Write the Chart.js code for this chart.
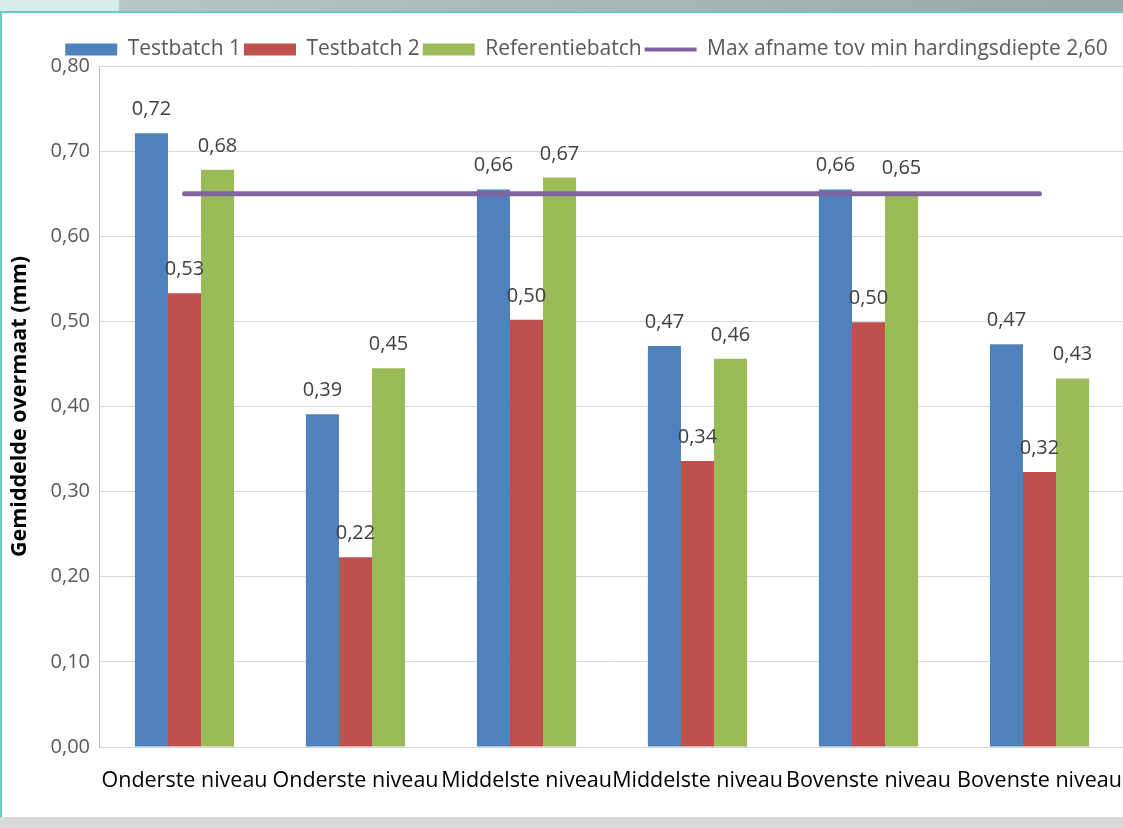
<!DOCTYPE html>
<html>
<head>
<meta charset="utf-8">
<script src="https://cdn.jsdelivr.net/npm/chart.js@4.4.1/dist/chart.umd.min.js"></script>
<style>
  html, body { margin: 0; padding: 0; background: #fff; overflow: hidden; }
  #page { position: relative; width: 1123px; height: 828px; overflow: hidden; background: #fff; }
  #topbar { position: absolute; left: 0; top: 0; width: 1123px; height: 11px;
    background: linear-gradient(to right, #d9ecec 0, #d9ecec 118px, #b9c5c5 120px, #9aa7a7 100%); }
  #topline { position: absolute; left: 0; top: 11px; width: 1123px; height: 2px; background: #6cc7bf; }
  #leftline { position: absolute; left: 0; top: 11px; width: 2px; height: 806px; background: #6cc7bf; z-index: 2; }
  #bottomband { position: absolute; left: 0; top: 817px; width: 1123px; height: 11px; background: #d9d9d9; }
  #wrap { position: absolute; left: 0; top: 13px; width: 1123px; height: 802px; overflow: hidden; }
</style>
</head>
<body>
<div id="page">
  <div id="topbar"></div>
  <div id="topline"></div>
  <div id="leftline"></div>
  <div id="wrap"><canvas id="chart" width="1130" height="802"></canvas></div>
  <div id="bottomband"></div>
</div>
<script>
// gegevens uit de grafiek
const categories = ['Onderste niveau', 'Onderste niveau', 'Middelste niveau', 'Middelste niveau', 'Bovenste niveau', 'Bovenste niveau'];
const testbatch1 = [0.721, 0.391, 0.655, 0.471, 0.655, 0.473];
const testbatch2 = [0.533, 0.223, 0.502, 0.336, 0.499, 0.323];
const referentiebatch = [0.678, 0.445, 0.669, 0.456, 0.652, 0.433];
const maxAfname = [0.65, 0.65, 0.65, 0.65, 0.65, 0.65];
const yTicks = [0, 0.1, 0.2, 0.3, 0.4, 0.5, 0.6, 0.7, 0.8];

const FONT = '"Open Sans", "Noto Sans", sans-serif';
const fmt = (v) => v.toFixed(2).replace('.', ',');

// waarden boven de staven
const barLabels = {
  id: 'barLabels',
  afterDatasetsDraw(chart) {
    const ctx = chart.ctx;
    ctx.save();
    ctx.font = '20px ' + FONT;
    ctx.fillStyle = '#404040';
    ctx.textAlign = 'center';
    ctx.textBaseline = 'alphabetic';
    chart.data.datasets.forEach((ds, i) => {
      if (ds.type === 'line') return;
      chart.getDatasetMeta(i).data.forEach((bar, j) => {
        ctx.fillText(fmt(ds.data[j]), bar.x, bar.y - 18);
      });
    });
    ctx.restore();
  }
};

// legenda: vaste hoogte en iets naar rechts, zoals in Excel
const legendTweak = {
  id: 'legendTweak',
  afterInit(chart) {
    const lg = chart.legend;
    const fit = lg.fit.bind(lg);
    lg.fit = function () { fit(); lg.height = 30; };
  },
  afterLayout(chart) {
    chart.legend.left += 24;
    chart.legend.right += 24;
  }
};

new Chart(document.getElementById('chart'), {
  data: {
    labels: categories,
    datasets: [
      { type: 'bar', label: 'Testbatch 1', data: testbatch1, backgroundColor: '#4F81BD', order: 1 },
      { type: 'bar', label: 'Testbatch 2', data: testbatch2, backgroundColor: '#C0504D', order: 1 },
      { type: 'bar', label: 'Referentiebatch', data: referentiebatch, backgroundColor: '#9BBB59', order: 1 },
      { type: 'line', label: 'Max afname tov min hardingsdiepte 2,60', data: maxAfname,
        borderColor: '#8064A2', backgroundColor: '#8064A2', borderWidth: 5, borderCapStyle: 'round',
        pointRadius: 0, order: 0 }
    ]
  },
  options: {
    responsive: false,
    animation: false,
    devicePixelRatio: 1,
    layout: { padding: { top: 23, right: 5, bottom: 0, left: 0 } },
    datasets: { bar: { categoryPercentage: 0.58, barPercentage: 1 } },
    plugins: {
      tooltip: { enabled: false },
      legend: {
        position: 'top',
        labels: {
          color: '#595959',
          font: { family: FONT, size: 21 },
          usePointStyle: true,
          pointStyleWidth: 52,
          boxWidth: 52,
          boxHeight: 12,
          padding: 3,
          sort: (a, b) => a.datasetIndex - b.datasetIndex,
          generateLabels(chart) {
            return Chart.defaults.plugins.legend.labels.generateLabels(chart).map((l) => {
              const isLine = chart.data.datasets[l.datasetIndex].type === 'line';
              return Object.assign(l, {
                pointStyle: isLine ? 'line' : 'rect',
                lineWidth: isLine ? 4 : 0,
                strokeStyle: isLine ? '#8064A2' : l.strokeStyle
              });
            });
          }
        }
      }
    },
    scales: {
      x: {
        grid: { display: false },
        border: { display: false },
        ticks: { color: '#000', font: { family: FONT, size: 21.5 }, padding: 13, autoSkip: false, maxRotation: 0 },
        afterFit(scale) {
          scale.height = 68;
          scale.paddingLeft = 0;
          scale.paddingRight = 0;
        }
      },
      y: {
        min: 0,
        max: 0.8,
        afterBuildTicks(scale) { scale.ticks = yTicks.map((v) => ({ value: v })); },
        grid: { color: '#d9d9d9', lineWidth: 1, drawTicks: false },
        border: { display: true, color: '#bfbfbf', width: 1 },
        ticks: { color: '#595959', font: { family: FONT, size: 20 }, padding: 9, callback: (v) => fmt(v) },
        title: { display: true, text: 'Gemiddelde overmaat (mm)', color: '#000',
          font: { family: FONT, size: 21.5, weight: 'bold' }, padding: { top: 7, bottom: 0 } },
        afterFit(scale) { scale.width = 99; }
      }
    }
  },
  plugins: [barLabels, legendTweak]
});
</script>
</body>
</html>
